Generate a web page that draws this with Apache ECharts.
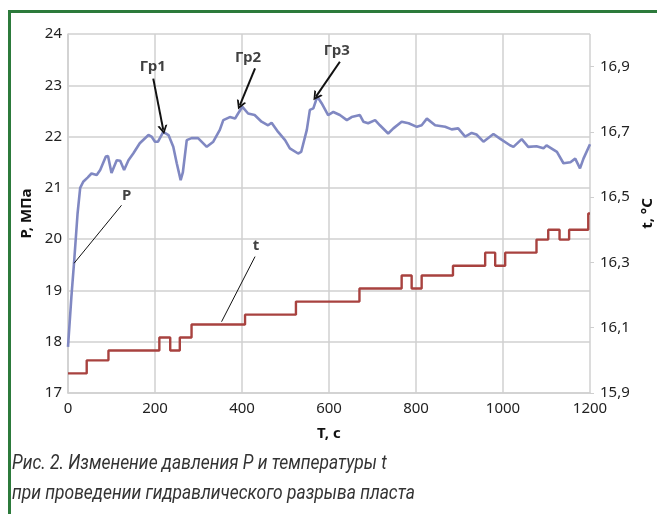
<!DOCTYPE html>
<html><head><meta charset="utf-8">
<script src="https://cdn.jsdelivr.net/npm/echarts@6/dist/echarts.min.js"></script>
<style>html,body{margin:0;padding:0;background:#fff}#c{width:657px;height:514px}</style>
</head><body><div id="c"></div>
<script>
// Pressure P, MPa
const pTime = [0,8,14,22,28,35,45,54,66,74,87,92,100,112,120,129,139,150,165,185,192,200,207,219,231,242,250,259,264,273,284,299,319,334,349,357,372,384,391,401,414,429,445,460,468,483,499,510,529,536,549,556,564,573,583,598,610,625,641,652,671,679,690,706,717,736,748,767,783,802,813,825,844,867,882,897,913,928,939,955,978,993,1016,1024,1043,1058,1077,1093,1100,1124,1139,1155,1166,1177,1185,1200];
const pVal  = [17.9,18.9,19.55,20.5,21.0,21.12,21.2,21.28,21.25,21.35,21.61,21.62,21.29,21.54,21.53,21.35,21.54,21.67,21.87,22.03,22.0,21.9,21.9,22.09,22.03,21.8,21.48,21.15,21.3,21.93,21.97,21.97,21.8,21.9,22.13,22.32,22.38,22.35,22.45,22.58,22.45,22.42,22.29,22.22,22.27,22.09,21.93,21.77,21.67,21.7,22.13,22.52,22.55,22.78,22.65,22.42,22.48,22.42,22.32,22.38,22.42,22.29,22.26,22.32,22.22,22.06,22.16,22.29,22.26,22.19,22.22,22.35,22.22,22.19,22.14,22.16,22.0,22.07,22.04,21.9,22.05,21.96,21.83,21.8,21.95,21.8,21.81,21.77,21.83,21.7,21.48,21.5,21.57,21.38,21.57,21.85];
// Temperature t, °C (value changes at given time)
const tTime = [0,43,93,210,235,257,284,407,524,670,767,790,813,885,959,982,1005,1077,1104,1130,1152,1196,1200];
const tVal  = [15.96,16.00,16.03,16.07,16.03,16.07,16.11,16.14,16.18,16.22,16.26,16.22,16.26,16.29,16.33,16.29,16.33,16.37,16.40,16.37,16.40,16.45,16.45];
// Axis ticks
const xTicks = [0,200,400,600,800,1000,1200];
const pTicks = [17,18,19,20,21,22,23,24];
const tTicks = [15.9,16.1,16.3,16.5,16.7,16.9];
// Annotations (data coordinates on T / P axes)
const labelNames = ['Гр1','Гр2','Гр3','P','t'];
const labelT = [195,414,618,135,432];
const labelP = [23.37,23.53,23.67,20.84,19.87];
const arrowFromT = [196,430,625];
const arrowFromP = [23.13,23.33,23.46];
const arrowToT = [219,395,570];
const arrowToP = [22.13,22.61,22.78];
const leaderFromT = [123,430];
const leaderFromP = [20.66,19.66];
const leaderToT = [14,353];
const leaderToP = [19.53,18.39];

const FONT = '"Noto Sans", "Open Sans", sans-serif';
const chart = echarts.init(document.getElementById('c'));
const fmtC = v => v.toFixed(1).replace('.', ',');
const CHEVRON = 'path://M0,10 L5,0 L10,10 L8,10 L5,4 L2,10 Z';

const arrows = arrowFromT.map((t,i)=>[{coord:[t,arrowFromP[i]]},{coord:[arrowToT[i],arrowToP[i]]}]);
const leaders = leaderFromT.map((t,i)=>[{coord:[t,leaderFromP[i]]},{coord:[leaderToT[i],leaderToP[i]]}]);

chart.setOption({
  animation:false,
  backgroundColor:'#fff',
  textStyle:{fontFamily:FONT},
  graphic:[
    {type:'rect', silent:true, shape:{x:9.5,y:11.5,width:700,height:540}, style:{fill:'none', stroke:'#2c7a3b', lineWidth:3}},
    {type:'text', silent:true, x:12, y:449, scaleX:0.83, style:{
      text:'Рис. 2. Изменение давления Р и температуры t\nпри проведении гидравлического разрыва пласта',
      font:'italic 21px Roboto, "Noto Sans", sans-serif', lineHeight:30, fill:'#333'}}
  ],
  grid:{left:68, right:67, top:34, bottom:121, outerBoundsMode:'none', containLabel:false},
  xAxis:{
    type:'value', min:0, max:1200, interval:200,
    name:'T, с', nameLocation:'middle', nameGap:33,
    nameTextStyle:{fontWeight:'bold', fontSize:15, color:'#111', fontFamily:FONT},
    axisLine:{show:true, lineStyle:{color:'#d0d0d0', width:1.5}},
    axisTick:{show:false},
    axisLabel:{fontSize:15, color:'#222', margin:8, customValues:xTicks, formatter:v=>String(v), fontFamily:FONT},
    splitLine:{show:true, lineStyle:{color:'#d0d0d0', width:1.5}}
  },
  yAxis:[{
    type:'value', min:17, max:24, interval:1, position:'left',
    name:'P, МПа', nameLocation:'middle', nameGap:31, nameRotate:90,
    nameTextStyle:{fontWeight:'bold', fontSize:15, color:'#111', fontFamily:FONT},
    axisLine:{show:true, lineStyle:{color:'#d0d0d0', width:1.5}},
    axisTick:{show:false},
    axisLabel:{fontSize:15, color:'#222', margin:6, customValues:pTicks, fontFamily:FONT},
    splitLine:{show:true, lineStyle:{color:'#d0d0d0', width:1.5}}
  },{
    type:'value', min:15.9, max:17.0, position:'right',
    name:'t, °C', nameLocation:'middle', nameGap:49, nameRotate:90,
    nameTextStyle:{fontWeight:'bold', fontSize:15, color:'#111', fontFamily:FONT},
    axisLine:{show:false},
    axisTick:{show:true, length:4, customValues:tTicks, lineStyle:{color:'#cfcfcf'}},
    axisLabel:{fontSize:15, color:'#222', margin:10, customValues:tTicks, formatter:fmtC, fontFamily:FONT},
    splitLine:{show:false}
  }],
  series:[{
    name:'P', type:'line', yAxisIndex:0, showSymbol:false, symbol:'none',
    data:pTime.map((t,i)=>[t,pVal[i]]),
    lineStyle:{color:'#8088c2', width:2.6},
    z:3,
    markLine:{silent:true, symbol:['none',CHEVRON], symbolSize:[10,9], label:{show:false},
      lineStyle:{color:'#111', width:2, type:'solid'}, data:arrows}
  },{
    name:'t', type:'line', yAxisIndex:1, showSymbol:false, symbol:'none', step:'end',
    data:tTime.map((t,i)=>[t,tVal[i]]),
    lineStyle:{color:'#a8423f', width:2.4},
    z:3
  },{
    name:'ann', type:'scatter', yAxisIndex:0, symbolSize:1, silent:true,
    itemStyle:{color:'rgba(0,0,0,0)'},
    data:labelT.map((t,i)=>({value:[t,labelP[i]], name:labelNames[i]})),
    label:{show:true, position:'inside', formatter:p=>p.name, fontWeight:'bold', fontSize:15, color:'#111', fontFamily:FONT},
    markLine:{silent:true, symbol:['none','none'], label:{show:false},
      lineStyle:{color:'#111', width:1, type:'solid'}, data:leaders},
    z:5
  }]
});
</script></body></html>
